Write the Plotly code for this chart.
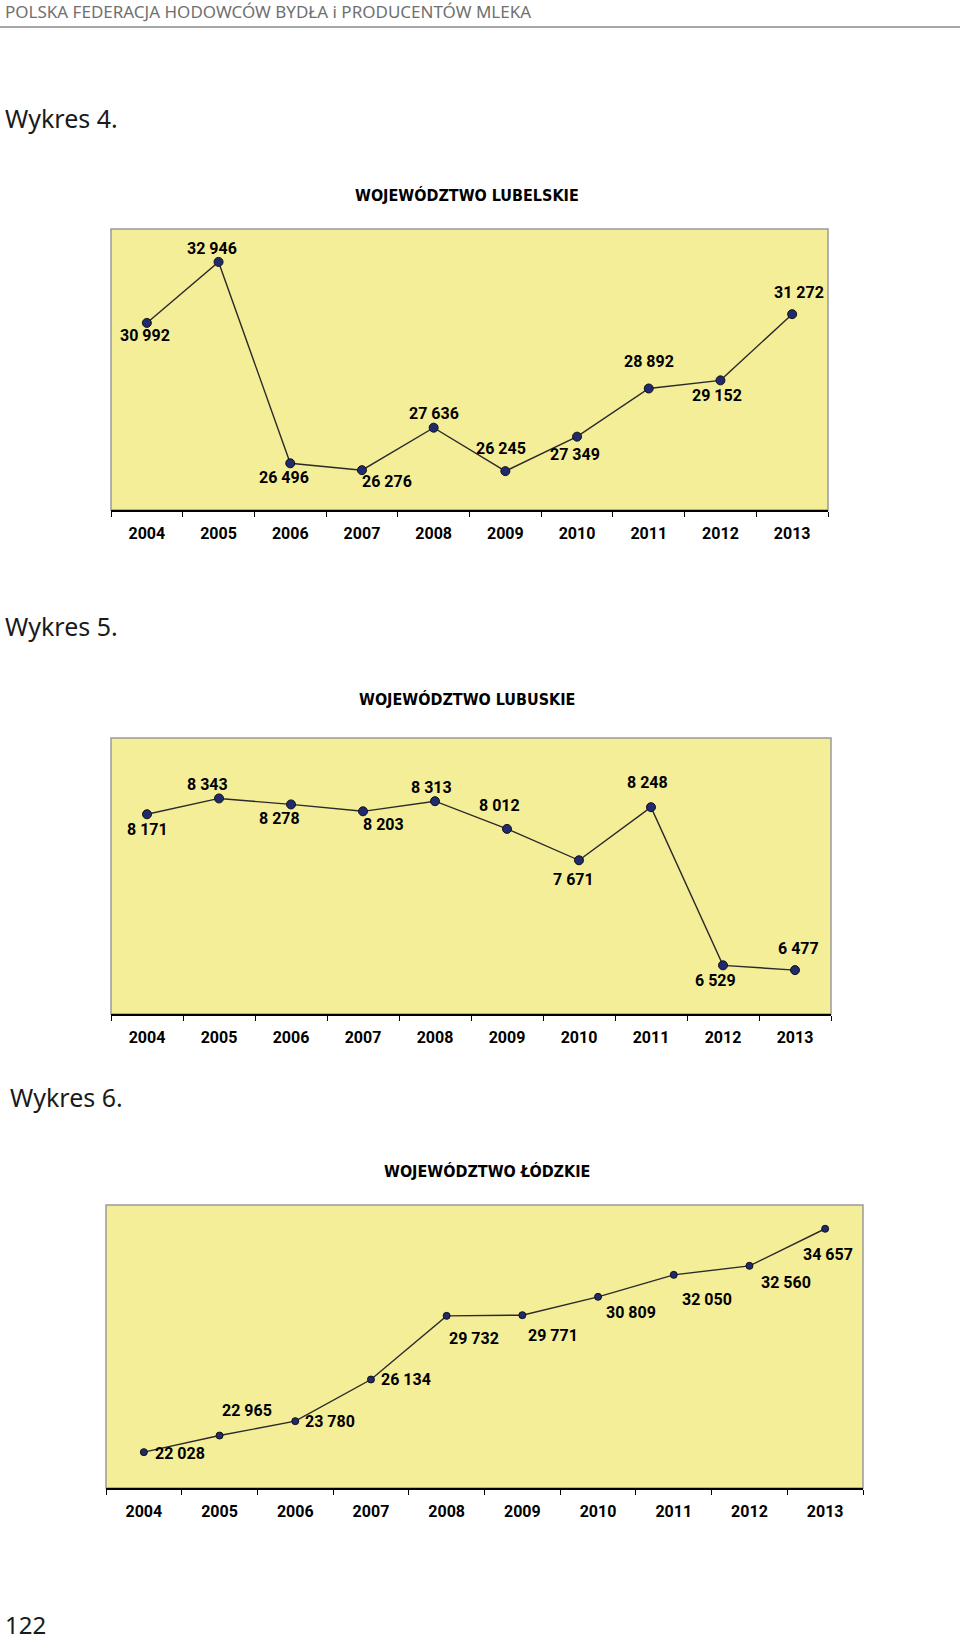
import plotly.graph_objects as go

# ---------------- data ----------------
years = ["2004", "2005", "2006", "2007", "2008", "2009", "2010", "2011", "2012", "2013"]
lubelskie = [30992, 32946, 26496, 26276, 27636, 26245, 27349, 28892, 29152, 31272]
lubuskie = [8171, 8343, 8278, 8203, 8313, 8012, 7671, 8248, 6529, 6477]
lodzkie = [22028, 22965, 23780, 26134, 29732, 29771, 30809, 32050, 32560, 34657]

titles = ["WOJEWÓDZTWO LUBELSKIE", "WOJEWÓDZTWO LUBUSKIE", "WOJEWÓDZTWO ŁÓDZKIE"]
headings = ["Wykres 4.", "Wykres 5.", "Wykres 6."]
header_text = "POLSKA FEDERACJA HODOWCÓW BYDŁA i PRODUCENTÓW MLEKA"
page_number = "122"

# label offsets in pixels (xshift, yshift) - styling only
off1 = [(-2, -13), (-7, 13), (-6, -14), (25, -11), (0, 14), (-4, 23), (-2, -18), (0, 27), (-3, -15), (7, 22)]
off2 = [(0, -15), (-12, 14), (-12, -14), (20, -13), (-4, 14), (-8, 23), (-6, -19), (-4, 25), (-8, -15), (3, 22)]
off3 = [(36, -1), (27, 25), (35, 0), (35, 0), (27, -23), (31, -20), (33, -16), (33, -25), (37, -17), (3, -26)]

W, H = 960, 1641
def px(x):
    return x / W
def py(y):
    return 1 - y / H

LABELF = "Roboto, Lato, sans-serif"
COND = "DejaVu Sans Condensed, sans-serif"
TEXTF = "Noto Sans, Open Sans, sans-serif"
YELLOW = "#F4EE98"
MARK = "#1F2B6E"

charts = [
    dict(vals=lubelskie, off=off1, rng=[25000, 34000], box=(111, 828, 229, 510), title_xy=(467, 195), msize=9),
    dict(vals=lubuskie, off=off2, rng=[6000, 9000], box=(111, 831, 738, 1014), title_xy=(467, 700), msize=9),
    dict(vals=lodzkie, off=off3, rng=[20000, 36000], box=(106, 863, 1205, 1488), title_xy=(487, 1171), msize=7),
]

fig = go.Figure()
annotations = []
shapes = []
for i, c in enumerate(charts):
    n = "" if i == 0 else str(i + 1)
    xa, ya = "x" + n, "y" + n
    x0, x1, y0, y1 = c["box"]
    fig.add_trace(go.Scatter(
        x=years, y=c["vals"], xaxis=xa, yaxis=ya, mode="lines+markers",
        line=dict(color="#2a2a2a", width=1.4),
        marker=dict(size=c["msize"], color=MARK, line=dict(color="#111111", width=1)),
        hoverinfo="skip", showlegend=False,
    ))
    fig.update_layout(**{
        "xaxis" + n: dict(
            domain=[px(x0), px(x1)], anchor=ya, type="category",
            categoryorder="array", categoryarray=years, range=[-0.5, 9.5],
            showline=True, linecolor="#000000", linewidth=1.5,
            ticks="outside", tickson="boundaries", ticklen=5, tickcolor="#000000", tickwidth=1.2,
            tickfont=dict(family=LABELF, size=16, color="#000000", weight="bold"),
            ticklabelstandoff=8, showgrid=False, zeroline=False, fixedrange=True,
        ),
        "yaxis" + n: dict(
            domain=[py(y1), py(y0)], anchor=xa, range=c["rng"],
            showticklabels=False, showgrid=False, zeroline=False, showline=False,
            ticks="", fixedrange=True,
        ),
    })
    shapes.append(dict(type="rect", xref=xa + " domain", yref=ya + " domain",
                       x0=0, x1=1, y0=0, y1=1, line=dict(color="#9a9a9a", width=1.5), layer="below"))
    for j, v in enumerate(c["vals"]):
        dx, dy = c["off"][j]
        annotations.append(dict(
            x=j, y=v, xref=xa, yref=ya, text=f"{v:,}".replace(",", " "),
            showarrow=False, xshift=dx, yshift=dy,
            font=dict(family=LABELF, size=16, color="#000000", weight="bold"),
        ))
    tx, ty = c["title_xy"]
    annotations.append(dict(
        x=px(tx), y=py(ty), xref="paper", yref="paper", text=titles[i], showarrow=False,
        xanchor="center", yanchor="middle",
        font=dict(family=COND, size=16, color="#000000", weight="bold"),
    ))

# page headings
heading_pos = [(3, 118), (3, 626), (8, 1097)]
for (hx, hy), t in zip(heading_pos, headings):
    annotations.append(dict(
        x=px(hx), y=py(hy), xref="paper", yref="paper", text=t, showarrow=False,
        xanchor="left", yanchor="middle",
        font=dict(family=TEXTF, size=25, color="#1a1a1a"),
    ))

annotations.append(dict(
    x=px(3), y=py(11), xref="paper", yref="paper", text=header_text, showarrow=False,
    xanchor="left", yanchor="middle",
    font=dict(family=TEXTF, size=17, color="#707070"),
))
annotations.append(dict(
    x=px(3), y=py(1624), xref="paper", yref="paper", text=page_number, showarrow=False,
    xanchor="left", yanchor="middle",
    font=dict(family=TEXTF, size=24, color="#1a1a1a"),
))
shapes.append(dict(type="line", xref="paper", yref="paper", x0=0, x1=1, y0=py(27), y1=py(27),
                   line=dict(color="#8a8a8a", width=1.5)))

fig.update_layout(
    width=W, height=H, autosize=False,
    margin=dict(l=0, r=0, t=0, b=0),
    paper_bgcolor="#ffffff", plot_bgcolor=YELLOW,
    annotations=annotations, shapes=shapes, showlegend=False,
)

fig.write_html("out.html", config={"displayModeBar": False},
               post_script="document.body.style.margin='0';document.body.style.overflow='hidden';")
